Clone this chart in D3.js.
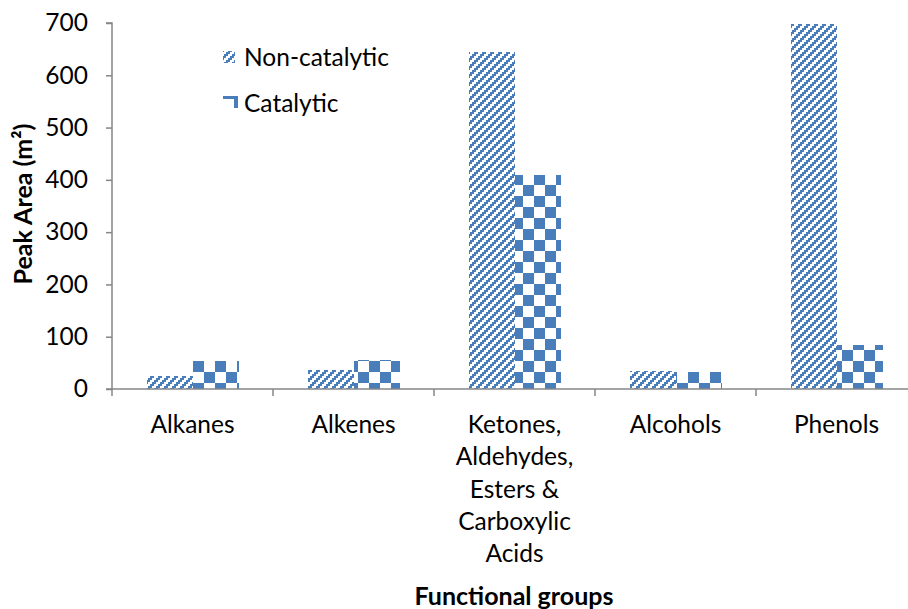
<!DOCTYPE html>
<html>
<head>
<meta charset="utf-8">
<script src="https://cdn.jsdelivr.net/npm/d3@7"></script>
<style>
  html, body { margin: 0; padding: 0; background: #fff; }
  svg { display: block; font-family: Lato, "Open Sans", sans-serif; }
</style>
</head>
<body>
<svg id="chart" width="908" height="609"></svg>
<script>
// Functional groups and peak areas for the two pyrolysis runs
const categories = [
  ["Alkanes"],
  ["Alkenes"],
  ["Ketones,", "Aldehydes,", "Esters &", "Carboxylic", "Acids"],
  ["Alcohols"],
  ["Phenols"]
];
const seriesNames = ["Non-catalytic", "Catalytic"];
const nonCatalytic = [24, 36, 645, 34, 698];
const catalytic = [54, 56, 410, 32, 84];
const yTicks = [0, 100, 200, 300, 400, 500, 600, 700];

const blue = "#4A7EBB";
const axisGrey = "#868686";
const labelSize = 24.5;

const svg = d3.select("#chart");
const defs = svg.append("defs");

// Stair-stepped upward diagonal hatch
const hatch = defs.append("pattern")
  .attr("id", "hatch").attr("patternUnits", "userSpaceOnUse")
  .attr("width", 8).attr("height", 8);
hatch.append("rect").attr("width", 8).attr("height", 8).attr("fill", "#fff");
[[6, 0], [4, 2], [2, 4], [0, 6]].forEach(([sx, sy]) => {
  for (let k = 0; k < 4; k += 2) {
    const x = (sx + k) % 8;
    hatch.append("rect").attr("x", x).attr("y", sy).attr("width", 2).attr("height", 2)
      .attr("fill", blue).attr("shape-rendering", "crispEdges");
  }
});

// Large checkerboard
const cell = 11;
const checker = defs.append("pattern")
  .attr("id", "checker").attr("patternUnits", "userSpaceOnUse")
  .attr("width", cell * 2).attr("height", cell * 2)
  .attr("x", 193).attr("y", 361);
checker.append("rect").attr("width", cell * 2).attr("height", cell * 2).attr("fill", "#fff");
checker.append("rect").attr("x", 0).attr("y", 0).attr("width", cell).attr("height", cell)
  .attr("fill", blue).attr("shape-rendering", "crispEdges");
checker.append("rect").attr("x", cell).attr("y", cell).attr("width", cell).attr("height", cell)
  .attr("fill", blue).attr("shape-rendering", "crispEdges");

const fills = ["url(#hatch)", "url(#checker)"];

const plot = { left: 112, right: 917, top: 23, bottom: 389 };

const x = d3.scaleBand().domain(d3.range(categories.length))
  .range([plot.left, plot.right]).paddingInner(0).paddingOuter(0);
const y = d3.scaleLinear().domain([0, 700]).range([plot.bottom, plot.top]);

const barW = x.bandwidth() / 3.5;   // 150% gap between groups
const sub = d3.scaleBand().domain([0, 1])
  .range([x.bandwidth() / 2 - barW, x.bandwidth() / 2 + barW]);

const series = [nonCatalytic, catalytic];

// Bars
series.forEach((vals, s) => {
  svg.append("g").selectAll("rect").data(vals).join("rect")
    .attr("x", (d, i) => x(i) + sub(s))
    .attr("width", sub.bandwidth())
    .attr("y", d => y(d))
    .attr("height", d => y(0) - y(d))
    .attr("fill", fills[s])
    .attr("shape-rendering", "crispEdges");
});

// Y axis
const yAxis = svg.append("g").attr("transform", `translate(${plot.left},0)`)
  .call(d3.axisLeft(y).tickValues(yTicks).tickSize(6).tickPadding(18).tickFormat(d3.format("d")));
yAxis.select(".domain").attr("stroke", axisGrey).attr("stroke-width", 1.5)
  .attr("d", `M-6,${plot.top}H0V${plot.bottom}`);
yAxis.selectAll(".tick line").attr("stroke", axisGrey).attr("stroke-width", 1.5);
yAxis.selectAll(".tick text").attr("font-size", labelSize).attr("fill", "#000")
  .attr("font-family", "Lato, sans-serif");

// X axis
const xAxisG = svg.append("g");
xAxisG.append("line")
  .attr("x1", plot.left - 6).attr("x2", plot.right)
  .attr("y1", plot.bottom).attr("y2", plot.bottom)
  .attr("stroke", axisGrey).attr("stroke-width", 1.5);
xAxisG.selectAll("line.tick").data(d3.range(categories.length + 1)).join("line")
  .attr("class", "tick")
  .attr("x1", i => plot.left + i * x.bandwidth()).attr("x2", i => plot.left + i * x.bandwidth())
  .attr("y1", plot.bottom).attr("y2", plot.bottom + 7)
  .attr("stroke", axisGrey).attr("stroke-width", 1.5);

const catLabels = xAxisG.selectAll("text.cat").data(categories).join("text")
  .attr("class", "cat")
  .attr("text-anchor", "middle")
  .attr("font-size", labelSize)
  .attr("fill", "#000");
catLabels.each(function(lines, i) {
  const t = d3.select(this);
  lines.forEach((ln, j) => {
    t.append("tspan").attr("x", x(i) + x.bandwidth() / 2)
      .attr("y", 433 + j * 32.3).text(ln);
  });
});

// Axis titles
svg.append("text")
  .attr("x", 514).attr("y", 605)
  .attr("text-anchor", "middle").attr("font-size", 25).attr("font-weight", "bold")
  .text("Functional groups");
svg.append("text")
  .attr("transform", "translate(32,204) rotate(-90)")
  .attr("text-anchor", "middle").attr("font-size", 25).attr("font-weight", "bold")
  .text("Peak Area (m²)");

// Legend
const legend = svg.append("g");
const legendY = [57, 103];
seriesNames.forEach((name, s) => {
  legend.append("text")
    .attr("x", 244).attr("y", legendY[s] + 8.5)
    .attr("font-size", labelSize).attr("fill", "#000")
    .text(name);
});
// hatch swatch
legend.append("rect").attr("x", 223).attr("y", 51).attr("width", 12).attr("height", 12)
  .attr("fill", "url(#hatch)");
// checker swatch
legend.append("path")
  .attr("d", "M223,96H234V99H223Z M234,96H238V108H234Z")
  .attr("fill", blue);
</script>
</body>
</html>
